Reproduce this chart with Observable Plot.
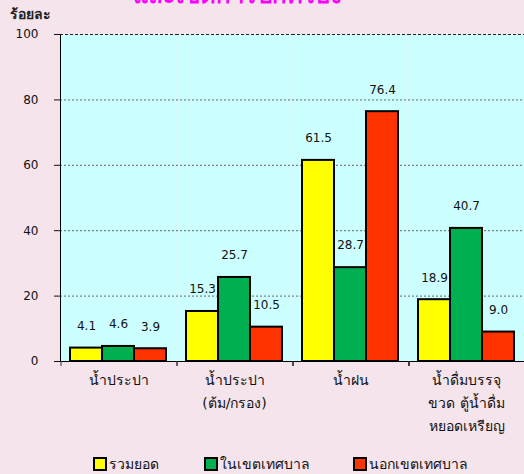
<!DOCTYPE html>
<html>
<head>
<meta charset="utf-8">
<script src="https://cdn.jsdelivr.net/npm/d3@7"></script>
<script src="https://cdn.jsdelivr.net/npm/@observablehq/plot@0.6"></script>
<style>
  html, body { margin: 0; padding: 0; }
  body { width: 524px; height: 474px; background: #f5e4ec; position: relative; overflow: hidden;
         font-family: "DejaVu Sans", "Noto Sans", sans-serif; }
  #chart { position: absolute; left: 0; top: 0; }
  #title { position: absolute; left: 133px; top: -18px; color: #ff00ff; font-weight: bold; font-size: 24px; white-space: nowrap; line-height: 26px; }
  #ylabel { position: absolute; left: 10px; top: 4px; font-size: 14px; font-weight: bold; color: #222; line-height: 20px; }
  .leg { position: absolute; top: 456px; font-size: 14px; color: #111; display: flex; align-items: center; white-space: nowrap; line-height: 16px; }
  .sw { width: 10px; height: 10px; border: 2px solid #000; margin-right: 2px; display: inline-block; }
</style>
</head>
<body>
<div id="chart"></div>
<div id="title">และเขตการปกครอง</div>
<div id="ylabel">ร้อยละ</div>
<div id="legend"></div>
<script>
const categories = ["tap", "tapBoiled", "rain", "bottled"];
const categoryLabels = ["น้ำประปา", "น้ำประปา\n(ต้ม/กรอง)", "น้ำฝน", "น้ำดื่มบรรจุ\nขวด ตู้น้ำดื่ม\nหยอดเหรียญ"];
const series = ["รวมยอด", "ในเขตเทศบาล", "นอกเขตเทศบาล"];
const seriesColors = ["#ffff00", "#00b050", "#ff3300"];
const totalValues = [4.1, 15.3, 61.5, 18.9];
const municipalValues = [4.6, 25.7, 28.7, 40.7];
const nonMunicipalValues = [3.9, 10.5, 76.4, 9.0];
const yTicks = [0, 20, 40, 60, 80, 100];

const valuesBySeries = [totalValues, municipalValues, nonMunicipalValues];
const data = [];
categories.forEach((c, i) => series.forEach((s, j) => data.push({category: c, series: s, value: valuesBySeries[j][i]})));
const labelOf = new Map(categories.map((c, i) => [c, categoryLabels[i]]));

// boundary tick marks below the x axis, at the left edge of each category band (via the fx scale)
const boundaryTicks = (index, scales, values, dimensions) => {
  const {height, marginBottom} = dimensions;
  const y0 = height - marginBottom;
  const g = d3.create("svg:g");
  if (scales.fx) {
    for (const c of categories) {
      const x = scales.fx(c);
      g.append("line").attr("x1", x).attr("x2", x)
        .attr("y1", y0).attr("y2", y0 + 5).attr("stroke", "#333").attr("stroke-width", 1);
    }
  }
  return g.node();
};

const chart = Plot.plot({
  width: 524,
  height: 474,
  marginLeft: 59,
  marginRight: 0,
  marginTop: 34,
  marginBottom: 113,
  style: {background: "transparent", fontFamily: '"DejaVu Sans", "Noto Sans", sans-serif', fontSize: "12px", color: "#111"},
  fx: {domain: categories, padding: 0, label: null, axis: null},
  x: {domain: series, paddingInner: 0, paddingOuter: 0.265, axis: null},
  y: {domain: [0, 100], ticks: yTicks, tickSize: 6, tickPadding: 16, label: null},
  color: {domain: series, range: seriesColors},
  marks: [
    Plot.frame({fill: "#ccffff", stroke: null}),
    Plot.gridY([20, 40, 60, 80], {stroke: "#666", strokeOpacity: 1, strokeDasharray: "2,2"}),
    Plot.ruleY([100], {stroke: "#222", strokeDasharray: "3,2"}),
    Plot.frame({anchor: "left", facetAnchor: "left", stroke: "#000"}),
    Plot.ruleY([0], {stroke: "#000"}),
    boundaryTicks,
    Plot.axisFx({anchor: "bottom", tickSize: 0, tickPadding: 7, fontSize: 14, lineHeight: 1.66, label: null,
                 tickFormat: c => labelOf.get(c)}),
    Plot.barY(data, {fx: "category", x: "series", y: "value", fill: "series", stroke: "#000", strokeWidth: 2}),
    Plot.text(data, {fx: "category", x: "series", y: "value", text: d => d.value.toFixed(1), dy: -22, fontSize: 12, fill: "#111"})
  ]
});
document.getElementById("chart").appendChild(chart);

const legendPos = [93, 204, 353];
const legend = document.getElementById("legend");
series.forEach((s, i) => {
  const item = document.createElement("div");
  item.className = "leg";
  item.style.left = legendPos[i] + "px";
  item.innerHTML = `<span class="sw" style="background:${seriesColors[i]}"></span><span>${s}</span>`;
  legend.appendChild(item);
});
</script>
</body>
</html>
